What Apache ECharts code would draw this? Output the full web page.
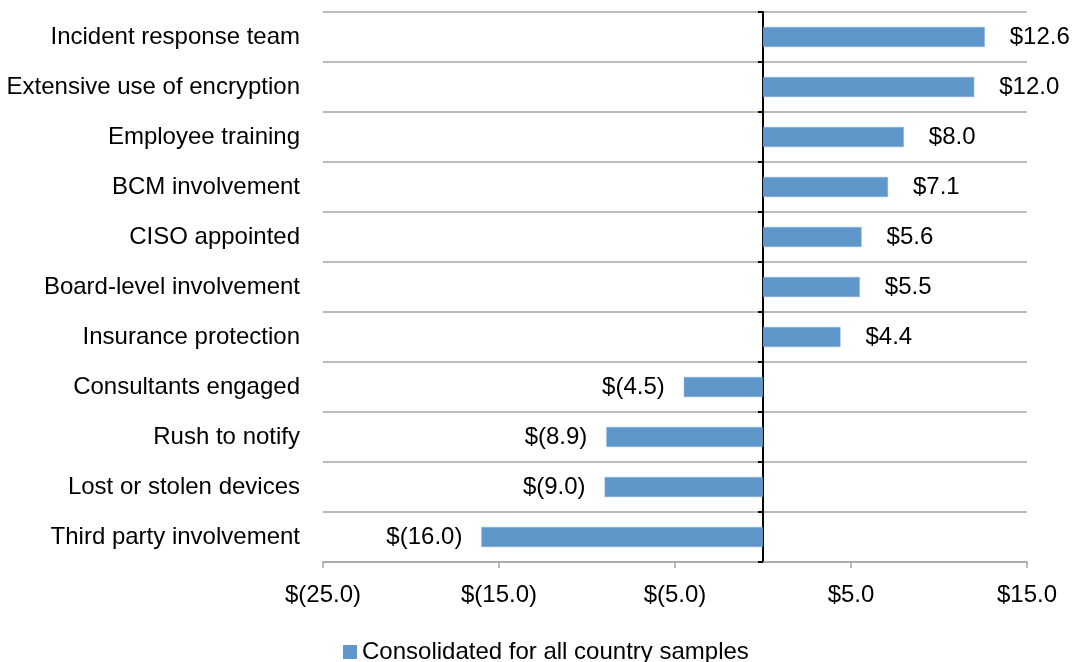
<!DOCTYPE html>
<html>
<head>
<meta charset="utf-8">
<script src="https://cdn.jsdelivr.net/npm/echarts@6/dist/echarts.min.js"></script>
<style>
  html, body { margin: 0; padding: 0; background: #fff; }
  #chart { width: 1073px; height: 662px; }
</style>
</head>
<body>
<div id="chart"></div>
<script>
// categories, top to bottom
var categories = [
  'Incident response team',
  'Extensive use of encryption',
  'Employee training',
  'BCM involvement',
  'CISO appointed',
  'Board-level involvement',
  'Insurance protection',
  'Consultants engaged',
  'Rush to notify',
  'Lost or stolen devices',
  'Third party involvement'
]
var values = [12.6, 12.0, 8.0, 7.1, 5.6, 5.5, 4.4, -4.5, -8.9, -9.0, -16.0]
var seriesName = 'Consolidated for all country samples'

var fontFamily = '"Liberation Sans", Arial, sans-serif'

function money(v) {
  return v < 0 ? '$(' + Math.abs(v).toFixed(1) + ')' : '$' + v.toFixed(1)
}

var chart = echarts.init(document.getElementById('chart'))
chart.setOption({
  backgroundColor: '#fff',
  animation: false,
  textStyle: { fontFamily: fontFamily },
  grid: { left: 323, right: 46, top: 12, bottom: 100, containLabel: false },
  legend: {
    left: 338,
    top: 635,
    icon: 'rect',
    itemWidth: 14,
    itemHeight: 14,
    itemStyle: { borderWidth: 0 },
    textStyle: { fontSize: 24, color: '#000', fontFamily: fontFamily },
    data: [seriesName]
  },
  xAxis: {
    type: 'value',
    min: -25,
    max: 15,
    interval: 10,
    axisLine: { show: true, onZero: false, lineStyle: { color: '#A6A6A6', width: 1.5 } },
    axisTick: { show: true, length: 6, lineStyle: { color: '#A6A6A6', width: 1.5 } },
    splitLine: { show: false },
    axisLabel: {
      margin: 21,
      fontSize: 24,
      color: '#000',
      formatter: money
    }
  },
  yAxis: [
    {
      type: 'category',
      inverse: true,
      data: categories,
      axisLine: { show: false, onZero: false },
      axisTick: { show: false },
      splitLine: { show: true, lineStyle: { color: '#A6A6A6', width: 1.5 } },
      axisLabel: { margin: 23, fontSize: 24, color: '#000', padding: [4, 0, 0, 0] }
    },
    {
      // zero line with its small ticks
      type: 'category',
      position: 'left',
      inverse: true,
      data: categories,
      axisLine: { show: true, onZero: true, lineStyle: { color: '#000', width: 2 } },
      axisTick: { show: true, length: 5, lineStyle: { color: '#000', width: 2 } },
      axisLabel: { show: false },
      splitLine: { show: false }
    }
  ],
  series: [
    {
      name: seriesName,
      type: 'bar',
      yAxisIndex: 0,
      barWidth: 20,
      itemStyle: { color: '#6097CB', borderColor: '#7EAADA', borderWidth: 0.5 },
      label: {
        show: true,
        fontSize: 24,
        color: '#000',
        padding: [4, 0, 0, 0],
        formatter: function (p) { return money(p.value) }
      },
      data: values.map(function (v) {
        return {
          value: v,
          label: { position: v < 0 ? 'left' : 'right', distance: v < 0 ? 19 : 25 }
        }
      })
    }
  ]
})
</script>
</body>
</html>
